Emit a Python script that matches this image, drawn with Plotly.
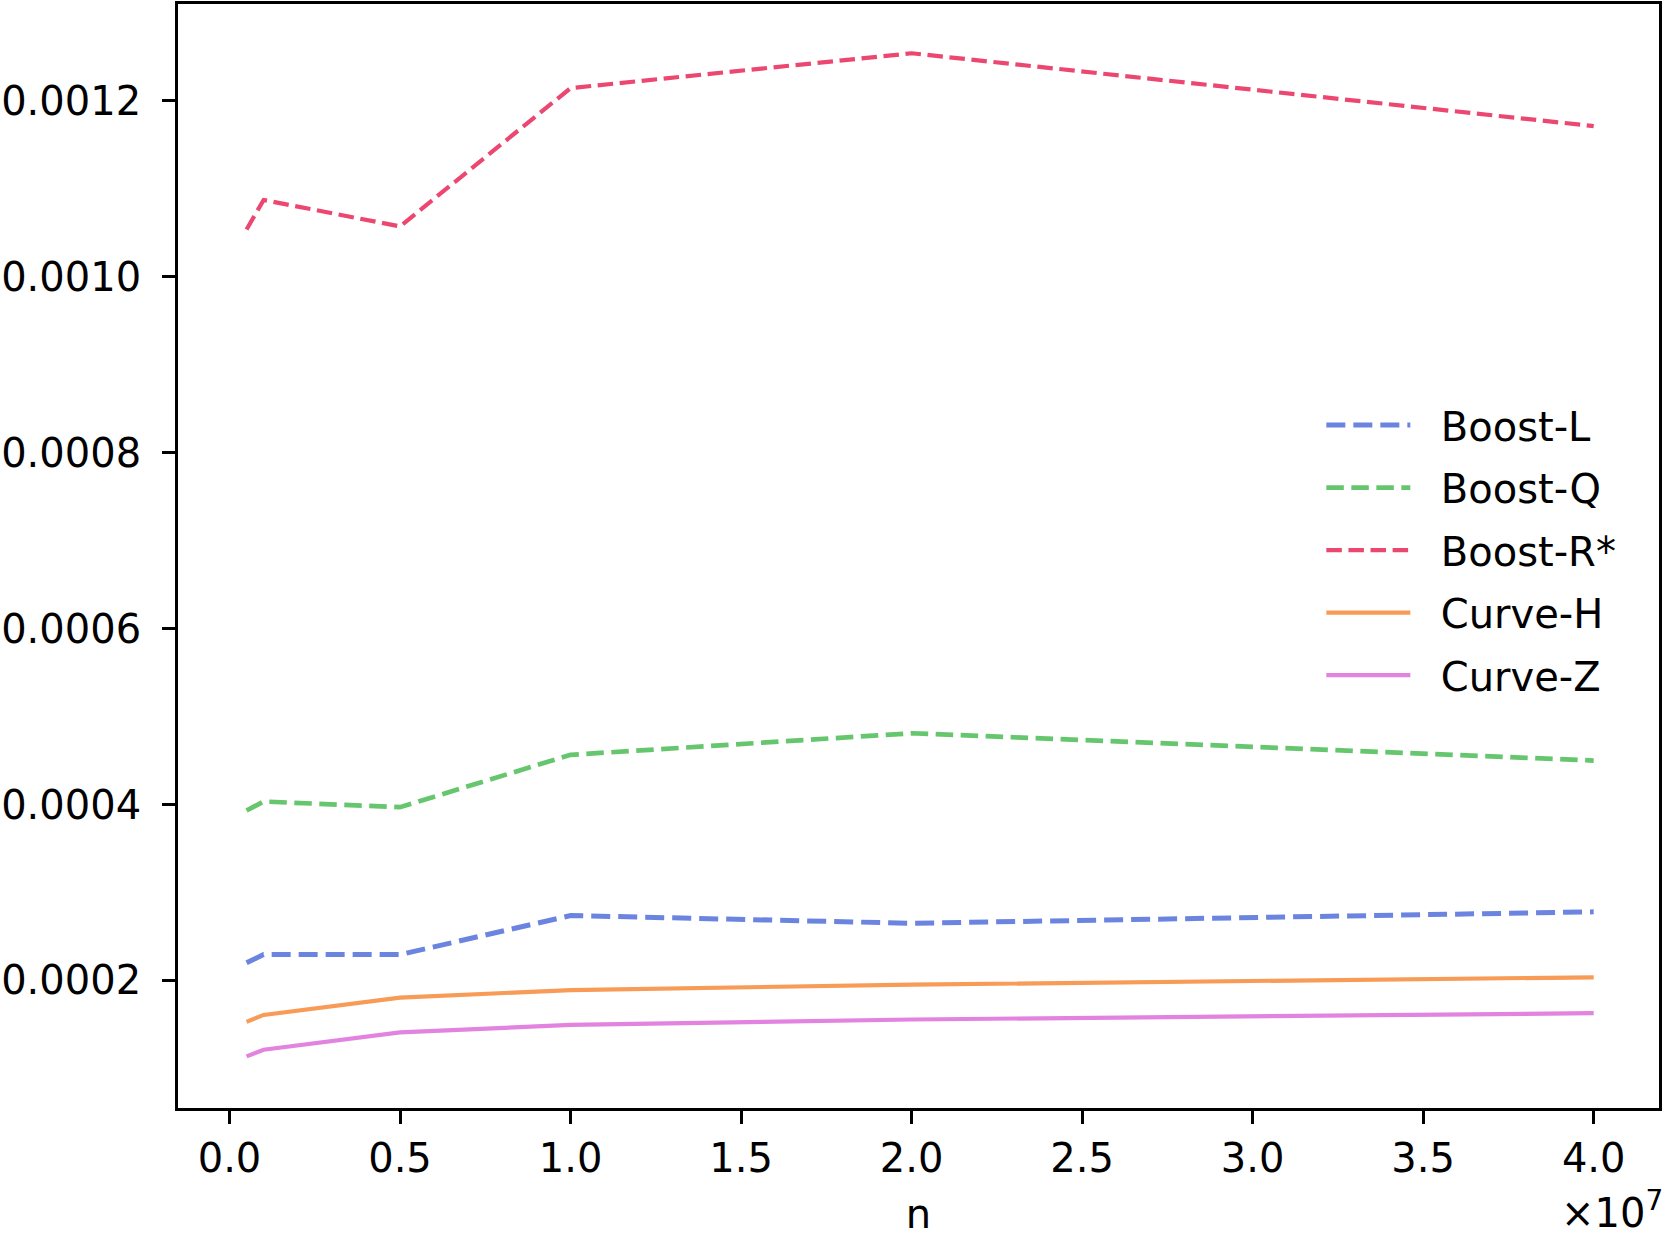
import plotly.graph_objects as go

n_values = [5e5, 1e6, 5e6, 1e7, 2e7, 4e7]

boost_l = [0.000220, 0.0002294, 0.0002294, 0.0002738, 0.0002650, 0.0002780]
boost_q = [0.0003932, 0.0004034, 0.0003970, 0.0004565, 0.0004810, 0.0004500]
boost_r = [0.0010536, 0.0010872, 0.0010572, 0.0012144, 0.0012540, 0.0011712]
curve_h = [0.0001529, 0.0001608, 0.0001804, 0.0001891, 0.0001952, 0.0002036]
curve_z = [0.0001137, 0.0001213, 0.0001409, 0.0001495, 0.0001556, 0.0001628]

x_tick_vals = [0, 5e6, 1e7, 1.5e7, 2e7, 2.5e7, 3e7, 3.5e7, 4e7]
x_tick_text = ["0.0", "0.5", "1.0", "1.5", "2.0", "2.5", "3.0", "3.5", "4.0"]
y_tick_vals = [0.0002, 0.0004, 0.0006, 0.0008, 0.0010, 0.0012]
y_tick_text = ["0.0002", "0.0004", "0.0006", "0.0008", "0.0010", "0.0012"]

series = [
    ("Boost-L", boost_l, "#6a84e0", 5.0, "19px,8px"),
    ("Boost-Q", boost_q, "#66c66e", 4.7, "17.5px,7.5px"),
    ("Boost-R*", boost_r, "#ec4770", 4.2, "15.5px,6.6px"),
    ("Curve-H", curve_h, "#f79b56", 4.2, "solid"),
    ("Curve-Z", curve_z, "#e383e0", 4.2, "solid"),
]

PAD = "\u00a0\u00a0"

fig = go.Figure()
for i, (name, ys, color, w, dash) in enumerate(series):
    fig.add_trace(go.Scatter(
        x=n_values, y=ys, mode="lines", name=PAD + name,
        line=dict(color=color, width=w, dash=dash),
        legendgroup=f"g{i}",
    ))

font = dict(family="DejaVu Sans", size=40, color="black")

fig.update_layout(
    width=1663, height=1238,
    margin=dict(l=175, r=2, t=1, b=130),
    paper_bgcolor="white", plot_bgcolor="white",
    font=font,
    showlegend=True,
    legend=dict(
        x=0.772, y=0.648, xanchor="left", yanchor="top",
        bgcolor="rgba(0,0,0,0)", borderwidth=0,
        font=font, itemwidth=84, tracegroupgap=7.5,
    ),
    xaxis=dict(
        range=[-0.151e7, 4.1915e7],
        tickvals=x_tick_vals, ticktext=x_tick_text,
        ticks="outside", ticklen=13, tickwidth=2.7, tickcolor="black",
        showline=True, linewidth=2.7, linecolor="black", mirror=True,
        showgrid=False, zeroline=False,
        title=dict(text="n", font=font, standoff=21),
    ),
    yaxis=dict(
        range=[0.000055, 0.00131],
        tickvals=y_tick_vals, ticktext=y_tick_text,
        ticks="outside", ticklen=13, tickwidth=2.7, tickcolor="black",
        showline=True, linewidth=2.7, linecolor="black", mirror=True,
        showgrid=False, zeroline=False,
        ticklabelstandoff=13,
    ),
    annotations=[dict(
        text="×10<sup>7</sup>", xref="paper", yref="paper",
        x=1.0, y=-0.09, xanchor="right", yanchor="middle",
        xshift=6, yshift=-3,
        showarrow=False, font=font,
    )],
)

fig.write_html("out.html")
